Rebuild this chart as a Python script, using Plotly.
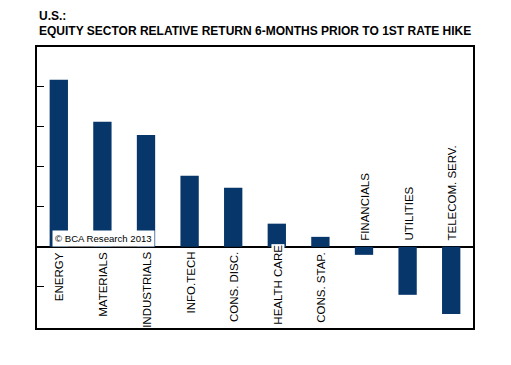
import plotly.graph_objects as go

sectors = ["ENERGY", "MATERIALS", "INDUSTRIALS", "INFO.TECH", "CONS. DISC.",
           "HEALTH CARE", "CONS. STAP.", "FINANCIALS", "UTILITIES", "TELECOM. SERV."]
rel_return = [4.18, 3.13, 2.8, 1.78, 1.48, 0.58, 0.25, -0.2, -1.2, -1.68]
ytick_vals = [-1, 0, 1, 2, 3, 4]

NAVY = "#06366a"
FONT = "Arial, Liberation Sans, sans-serif"

fig = go.Figure()
fig.add_trace(go.Bar(
    x=sectors, y=rel_return, width=0.42,
    marker=dict(color=NAVY, line=dict(width=0)),
    hoverinfo="skip",
))

annotations = []
for name, val in zip(sectors, rel_return):
    if val >= 0:
        shift = -4
        if name == "HEALTH CARE":
            shift = 3
        annotations.append(dict(
            x=name, y=0, xref="x", yref="y", text=name, textangle=-90,
            showarrow=False, yanchor="top", xanchor="center", yshift=shift, xshift=1,
            font=dict(family=FONT, size=11.5, color="black"),
            bgcolor="white" if name == "HEALTH CARE" else "rgba(0,0,0,0)",
            borderpad=0,
        ))
    else:
        annotations.append(dict(
            x=name, y=0, xref="x", yref="y", text=name, textangle=-90,
            showarrow=False, yanchor="bottom", xanchor="center", yshift=5, xshift=1,
            font=dict(family=FONT, size=11.5, color="black"),
            borderpad=0,
        ))

annotations.append(dict(
    x=15 / 436, y=0.22, xref="paper", yref="y", text="© BCA Research 2013",
    showarrow=False, xanchor="left", yanchor="middle",
    font=dict(family=FONT, size=9.6, color="black"),
    bgcolor="white", borderpad=2,
))
annotations.append(dict(
    x=0, y=1 + (47 - 16) / 281, xref="paper", yref="paper", text="<b>U.S.:</b>",
    showarrow=False, xanchor="left", yanchor="middle",
    font=dict(family=FONT, size=12, color="black"),
))
annotations.append(dict(
    x=0, y=1 + (47 - 31) / 281, xref="paper", yref="paper",
    text="<b>EQUITY SECTOR RELATIVE RETURN 6-MONTHS PRIOR TO 1ST RATE HIKE</b>",
    showarrow=False, xanchor="left", yanchor="middle",
    font=dict(family=FONT, size=12, color="black"),
))

fig.update_layout(
    width=503, height=357,
    margin=dict(l=29, r=38, t=39, b=37),
    paper_bgcolor="white", plot_bgcolor="white",
    showlegend=False,
    annotations=annotations,
)
fig.update_xaxes(
    showticklabels=False, ticks="", showgrid=False, zeroline=False,
    showline=True, linecolor="black", linewidth=1.5, mirror=True,
)
fig.update_yaxes(
    range=[-2.03, 5.0], tickvals=ytick_vals, showticklabels=False,
    ticks="inside", ticklen=7, tickwidth=1.2, tickcolor="black",
    showgrid=False, zeroline=True, zerolinecolor="black", zerolinewidth=1.5,
    showline=True, linecolor="black", linewidth=1.5, mirror=True,
)

fig.write_html("out.html")
